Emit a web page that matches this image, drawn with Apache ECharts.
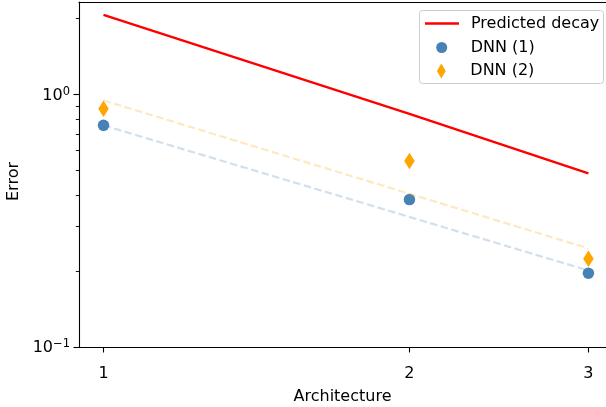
<!DOCTYPE html>
<html><head><meta charset="utf-8">
<script src="https://cdn.jsdelivr.net/npm/echarts@6/dist/echarts.min.js"></script>
<style>html,body{margin:0;padding:0;background:#fff}#c{width:606px;height:407px}</style>
</head><body><div id="c"></div>
<script>
// ---- data ----
const architectures = [1, 2, 3];
const predictedDecay = [2.07, 0.84, 0.488];
const dnn1 = [0.756, 0.384, 0.196];
const dnn2 = [0.880, 0.546, 0.224];
const fitX = [1, 3];
const dnn1Fit = [0.756, 0.201];
const dnn2Fit = [0.949, 0.246];
const xTicks = [1, 2, 3];
const yMajorTicks = [0.1, 1];
const yMinorTicks = [0.2, 0.3, 0.4, 0.5, 0.6, 0.7, 0.8, 0.9, 2];
const legendNames = ['Predicted decay', 'DNN (1)', 'DNN (2)'];

const FONT = 'DejaVu Sans';
const FS = 16;
const zip = (xs, ys) => xs.map((x, i) => [x, ys[i]]);
const BLACK = '#000';
const X_MIN = 0.946, X_MAX = 3.122;

const chart = echarts.init(document.getElementById('c'), null, {renderer: 'canvas'});

const yBase = {
  type: 'log', logBase: 10, min: 0.1, max: 2.33, position: 'left',
  splitLine: {show: false}, minorTick: {show: false}, minorSplitLine: {show: false}
};

const legendCommon = {
  orient: 'vertical', padding: 0, itemWidth: 34, selectedMode: false,
  textStyle: {fontFamily: FONT, fontSize: FS, color: BLACK, lineHeight: 17, padding: [0, 0, 0, 7]},
  z: 5
};

const option = {
  animation: false,
  backgroundColor: '#fff',
  grid: {left: 79, top: 2, right: 0, bottom: 60, show: false, containLabel: false, outerBoundsMode: 'none'},
  xAxis: [{
    type: 'log', logBase: 10, min: X_MIN, max: X_MAX,
    name: 'Architecture', nameLocation: 'middle', nameGap: 42,
    nameTextStyle: {fontFamily: FONT, fontSize: FS, color: BLACK},
    axisLine: {show: true, onZero: false, lineStyle: {color: BLACK, width: 1.1}},
    axisTick: {show: true, length: 5.5, inside: false, lineStyle: {color: BLACK, width: 1.1}, customValues: xTicks},
    axisLabel: {show: true, customValues: xTicks, margin: 19, fontFamily: FONT, fontSize: FS, color: BLACK,
      formatter: v => String(Math.round(v))},
    splitLine: {show: false}, minorTick: {show: false}
  }, {
    type: 'log', logBase: 10, min: X_MIN, max: X_MAX, position: 'top',
    axisLine: {show: true, onZero: false, lineStyle: {color: BLACK, width: 1.1}},
    axisTick: {show: false}, axisLabel: {show: false},
    splitLine: {show: false}, minorTick: {show: false}
  }],
  yAxis: [
    Object.assign({}, yBase, {
      name: 'Error', nameLocation: 'middle', nameGap: 50, nameRotate: 90,
      nameTextStyle: {fontFamily: FONT, fontSize: FS, color: BLACK, padding: [0, 14, 0, 0]},
      axisLine: {show: true, onZero: false, lineStyle: {color: BLACK, width: 1.1}},
      axisTick: {show: true, length: 5.5, lineStyle: {color: BLACK, width: 1.1}, customValues: yMajorTicks},
      axisLabel: {
        show: true, customValues: yMajorTicks, margin: 9,
        formatter: v => {
          const e = Math.round(Math.log10(v));
          return '{b|10}{s|' + (e < 0 ? '\u2212' + (-e) : String(e)) + '}';
        },
        rich: {
          b: {fontFamily: FONT, fontSize: FS, lineHeight: 18, verticalAlign: 'bottom', color: BLACK},
          s: {fontFamily: FONT, fontSize: 11.5, lineHeight: 12, verticalAlign: 'top', color: BLACK}
        }
      }
    }),
    Object.assign({}, yBase, {
      axisLine: {show: false},
      axisTick: {show: true, length: 3.2, lineStyle: {color: BLACK, width: 0.9}, customValues: yMinorTicks},
      axisLabel: {show: false}
    })
  ],
  legend: [
    Object.assign({}, legendCommon, {left: 425, top: 15, itemHeight: 2.3,
      data: [{name: legendNames[0], icon: 'rect', itemStyle: {color: '#ff0000'}}]}),
    Object.assign({}, legendCommon, {left: 436.2, top: 39, itemHeight: 11,
      data: [{name: legendNames[1], icon: 'circle'}]}),
    Object.assign({}, legendCommon, {left: 436.9, top: 62.5, itemHeight: 15,
      data: [{name: legendNames[2], icon: 'path://M5,0L10,8.5L5,17L0,8.5Z'}]})
  ],
  graphic: [{
    type: 'rect', silent: true, z: 3,
    shape: {x: 419.5, y: 10.5, width: 184, height: 73, r: 3},
    style: {fill: 'rgba(255,255,255,0.8)', stroke: '#cccccc', lineWidth: 1}
  }],
  series: [
    {name: legendNames[0], type: 'line', data: zip(architectures, predictedDecay), symbol: 'none',
      lineStyle: {color: '#ff0000', width: 2.3}, itemStyle: {color: '#ff0000'}, silent: true},
    {name: legendNames[1], type: 'scatter', data: zip(architectures, dnn1), symbol: 'circle', symbolSize: 11.5,
      itemStyle: {color: '#4682b4', opacity: 1}, silent: true},
    {name: legendNames[2], type: 'scatter', data: zip(architectures, dnn2), symbol: 'diamond', symbolSize: [10.5, 16.5],
      itemStyle: {color: '#ffa500', opacity: 1}, silent: true},
    {name: 'DNN (1) fit', type: 'line', data: zip(fitX, dnn1Fit), symbol: 'none', silent: true,
      lineStyle: {color: 'rgba(70,130,180,0.25)', width: 2.2, type: [7.5, 3.5]}},
    {name: 'DNN (2) fit', type: 'line', data: zip(fitX, dnn2Fit), symbol: 'none', silent: true,
      lineStyle: {color: 'rgba(255,165,0,0.25)', width: 2.2, type: [7.5, 3.5]}}
  ]
};
chart.setOption(option);
</script></body></html>
